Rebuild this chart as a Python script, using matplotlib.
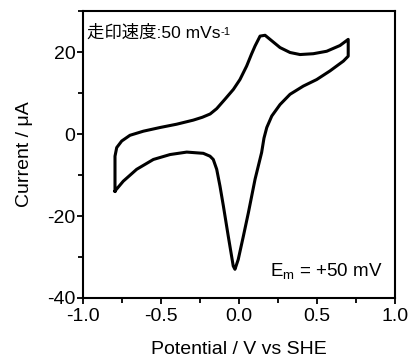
import matplotlib
matplotlib.use('Agg')
import matplotlib.pyplot as plt
from matplotlib.ticker import MultipleLocator

plt.rcParams['font.family'] = ['Liberation Sans', 'Noto Sans CJK JP', 'DejaVu Sans']
plt.rcParams['mathtext.fontset'] = 'custom'
plt.rcParams['mathtext.rm'] = 'Liberation Sans'
plt.rcParams['mathtext.it'] = 'Liberation Sans'

# Forward (anodic) sweep, -0.8 V -> +0.7 V
fwd_potential = [-0.795, -0.795, -0.784, -0.752, -0.699, -0.613, -0.506, -0.40, -0.293,
                 -0.235, -0.185, -0.143, -0.09, -0.036, 0.006, 0.049, 0.08, 0.103, 0.135,
                 0.167, 0.199, 0.263, 0.327, 0.391, 0.476, 0.562, 0.647, 0.70]
fwd_current = [-13.9, -5.4, -3.3, -1.7, -0.3, 0.7, 1.6, 2.4, 3.4,
               4.1, 4.9, 6.2, 8.5, 10.9, 13.3, 16.6, 19.5, 21.5, 23.9,
               24.1, 23.1, 21.1, 19.9, 19.4, 19.6, 20.2, 21.6, 23.1]

# Reverse (cathodic) sweep, +0.7 V -> -0.8 V
rev_potential = [0.70, 0.669, 0.583, 0.498, 0.412, 0.327, 0.263, 0.21, 0.178, 0.16,
                 0.145, 0.103, 0.06, 0.028, -0.005, -0.026, -0.037, -0.069, -0.10,
                 -0.122, -0.143, -0.165, -0.186, -0.229, -0.335, -0.442, -0.549,
                 -0.656, -0.742, -0.795]
rev_current = [19.0, 17.8, 15.4, 13.3, 11.7, 9.7, 7.2, 4.4, 1.6, -1.0,
               -4.5, -11.0, -19.2, -24.9, -30.6, -33.0, -32.2, -24.9, -17.6,
               -12.7, -8.6, -6.2, -5.4, -4.7, -4.4, -5.0, -6.2,
               -8.6, -11.5, -13.9]

fig = plt.figure(figsize=(4.18, 3.58), dpi=100)
ax = fig.add_axes([0.1986, 0.1676, 0.7464, 0.8014])

ax.plot(fwd_potential + rev_potential, fwd_current + rev_current,
        color='black', linewidth=2.2, solid_joinstyle='round')

ax.set_xlim(-1.0, 1.0)
ax.set_ylim(-40, 30)
ax.set_xticks([-1.0, -0.5, 0.0, 0.5, 1.0])
ax.set_xticklabels(['-1.0', '-0.5', '0.0', '0.5', '1.0'])
ax.set_yticks([-40, -20, 0, 20])
ax.set_yticklabels(['-40', '-20', '0', '20'])
ax.xaxis.set_minor_locator(MultipleLocator(0.25))
ax.yaxis.set_minor_locator(MultipleLocator(10))

for s in ax.spines.values():
    s.set_linewidth(1.5)

ax.tick_params(which='both', direction='out', width=1.3, labelsize=14)
ax.tick_params(which='major', length=4.5, pad=1)
ax.tick_params(axis='x', which='major', pad=3)
ax.tick_params(which='minor', length=3.5)
# tiny stubs on top/right
ax.tick_params(axis='x', which='both', top=True, labeltop=False)
ax.tick_params(axis='y', which='both', right=True, labelright=False)
for line in ax.xaxis.get_majorticklines()[1::2] + ax.xaxis.get_minorticklines()[1::2]:
    line.set_markersize(1)
for line in ax.yaxis.get_majorticklines()[1::2] + ax.yaxis.get_minorticklines()[1::2]:
    line.set_markersize(1)

ax.set_xlabel('Potential / V vs SHE', fontsize=14, labelpad=11)
ax.set_ylabel('Current / μA', fontsize=14, labelpad=10)

t1 = ax.text(0.012, 0.955, '走印速度:50 mVs', transform=ax.transAxes,
             fontsize=12.5, ha='left', va='top')
ax.annotate('-1', xy=(1, 1), xycoords=t1, xytext=(0.3, -2.5),
            textcoords='offset points', fontsize=8, ha='left', va='top')
ax.text(0.96, 0.06, 'E$_{\\mathrm{m}}$ = +50 mV', transform=ax.transAxes,
        fontsize=13.5, ha='right', va='bottom')

fig.savefig('out.png', dpi=100)
